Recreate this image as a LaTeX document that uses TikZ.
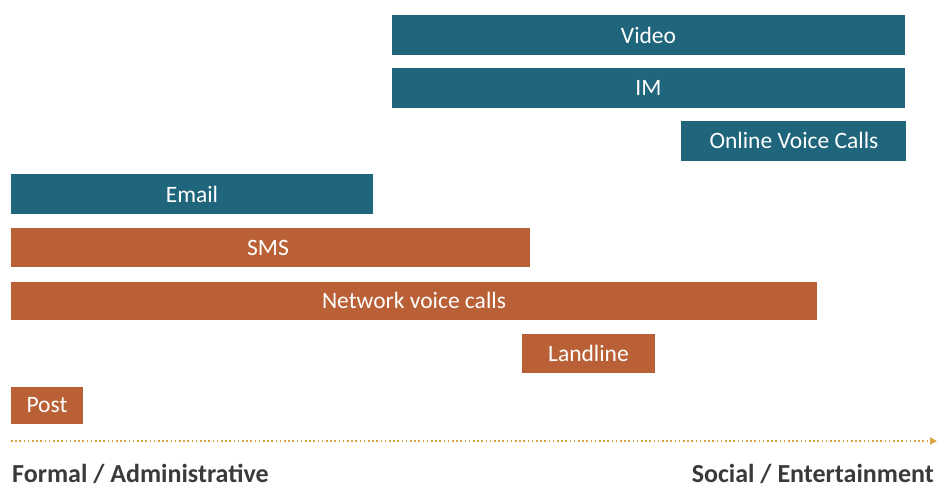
\documentclass[tikz,border=0pt]{standalone}
\usepackage{fontspec}
\setmainfont{Carlito}
\usetikzlibrary{arrows.meta}
\definecolor{tealbar}{HTML}{1F657B}
\definecolor{orangebar}{HTML}{BA6036}
\definecolor{dotgold}{HTML}{D9A441}
\definecolor{labelgray}{HTML}{3A3A3A}
\begin{document}
\begin{tikzpicture}[x=1pt,y=-1pt,
  bar/.style={inner sep=0pt,outer sep=0pt,text=white,font=\fontsize{23.5}{26}\selectfont},
  tealb/.style={bar},
  orangeb/.style={bar},
  axislabel/.style={inner sep=0pt,text=labelgray,font=\fontsize{26}{30}\selectfont\bfseries}]
\useasboundingbox (0,0) rectangle (938,489);
\path[fill=tealbar] (392,15) rectangle (905,55);
\node[tealb] (video) at (648.5,35) {Video};
\path[fill=tealbar] (392,68) rectangle (905,108);
\node[tealb] (im) at (648.5,88) {IM};
\path[fill=tealbar] (681,121) rectangle (906,161);
\node[tealb] (ovc) at (794,140) {Online Voice Calls};
\path[fill=tealbar] (11,174) rectangle (373,214);
\node[tealb] (email) at (192,194) {Email};
\path[fill=orangebar] (11,228) rectangle (530,267);
\node[orangeb] (sms) at (268,247.5) {SMS};
\path[fill=orangebar] (11,282) rectangle (817,320);
\node[orangeb] (nvc) at (414,300) {Network voice calls};
\path[fill=orangebar] (522,334) rectangle (655,373);
\node[orangeb] (land) at (588.5,353.5) {Landline};
\path[fill=orangebar] (11,387) rectangle (83,424);
\node[orangeb] (post) at (47,405.5) {Post};
\coordinate (axs) at (11,441);
\coordinate (axe) at (937,441);
\draw[dotgold,line width=2.4pt,dash pattern=on 1.6pt off 2.6pt,-{Triangle[length=7pt,width=7pt]}] (axs) -- (axe);
\node[axislabel,anchor=base west] (formal) at (12,482) {Formal / Administrative};
\node[axislabel,anchor=base east] (social) at (934,482) {Social / Entertainment};
\end{tikzpicture}
\end{document}
